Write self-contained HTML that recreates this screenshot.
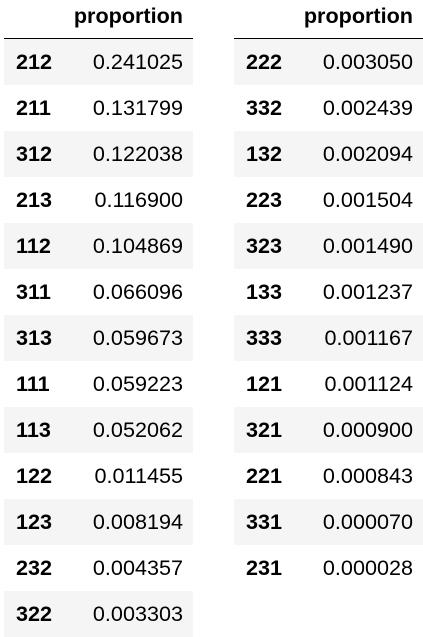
<!DOCTYPE html>
<html><head><meta charset="utf-8"><style>
html,body{margin:0;padding:0;background:#fff;width:423px;height:634px;overflow:hidden;font-family:"Liberation Sans",Arial,sans-serif;color:#000}
.t{position:absolute;top:0}
.h{position:absolute;top:0;height:38px;font-weight:bold;font-size:21.6px;line-height:32px}
.line{position:absolute;top:38px;height:1px;background:#000}
.r{position:absolute;height:46px;font-size:21.6px;line-height:46px}
.r.g{background:#f5f5f5}
.i{position:absolute;left:12px;font-weight:bold}
.v{position:absolute;right:10px}
</style></head><body>
<div class="t" id="left" style="left:4px;width:189px"></div>
<div class="t" id="right" style="left:234px;width:189px"></div>
<script>
const leftIdx=["212","211","312","213","112","311","313","111","113","122","123","232","322"];
const leftVal=["0.241025","0.131799","0.122038","0.116900","0.104869","0.066096","0.059673","0.059223","0.052062","0.011455","0.008194","0.004357","0.003303"];
const rightIdx=["222","332","132","223","323","133","333","121","321","221","331","231"];
const rightVal=["0.003050","0.002439","0.002094","0.001504","0.001490","0.001237","0.001167","0.001124","0.000900","0.000843","0.000070","0.000028"];
function build(id,idx,val){
  const t=document.getElementById(id);
  const h=document.createElement('div');h.className='h';h.style.right='10px';h.textContent='proportion';
  
  
  t.appendChild(h);
  const l=document.createElement('div');l.className='line';l.style.left='0';l.style.width='189px';
  
  
  t.appendChild(l);
  idx.forEach((k,j)=>{
    const r=document.createElement('div');r.className='r'+(j%2===0?' g':'');
    r.style.top=(39+j*46)+'px';r.style.left='0';r.style.width='189px';
    
    
    const a=document.createElement('span');a.className='i';a.textContent=k;
    
    
    const b=document.createElement('span');b.className='v';b.textContent=val[j];
    
    
    r.appendChild(a);r.appendChild(b);t.appendChild(r);
  });
}
build('left',leftIdx,leftVal);
build('right',rightIdx,rightVal);
</script>
</body></html>
